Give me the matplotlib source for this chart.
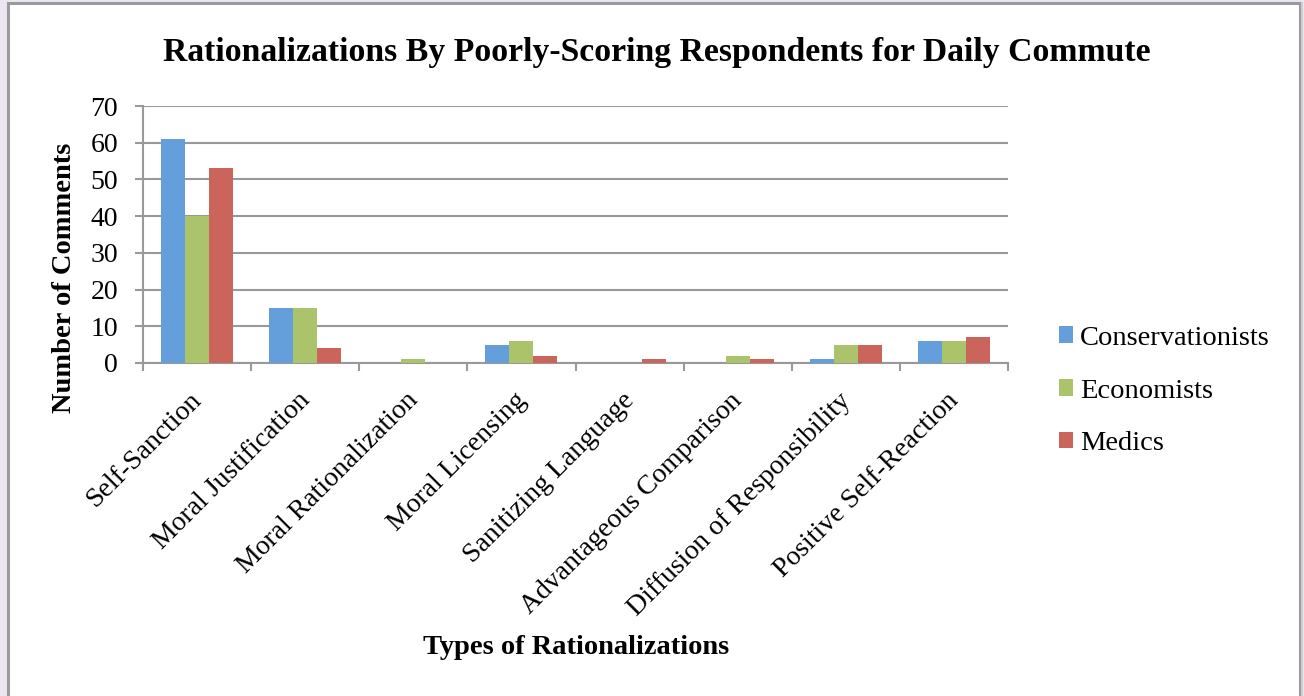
import numpy as np
import matplotlib.pyplot as plt
import matplotlib.transforms as mtransforms
from matplotlib.patches import Rectangle

# data
categories = ["Self-Sanction", "Moral Justification", "Moral Rationalization",
              "Moral Licensing", "Sanitizing Language", "Advantageous Comparison",
              "Diffusion of Responsibility", "Positive Self-Reaction"]
conservationists = [61, 15, 0, 5, 0, 0, 1, 6]
economists = [40, 15, 1, 6, 0, 2, 5, 6]
medics = [53, 4, 0, 2, 1, 1, 5, 7]
series_names = ["Conservationists", "Economists", "Medics"]
colors = ["#659fdb", "#abc46c", "#cb645b"]

plt.rcParams['font.family'] = ['Liberation Serif', 'DejaVu Serif']

fig = plt.figure(figsize=(13.04, 6.96), dpi=100)
fig.patch.set_facecolor("#ebe6f2")
W, H = 1304, 696

# white chart frame with gray border (drawn on a background axes)
bg = fig.add_axes([0, 0, 1, 1], zorder=-5)
bg.set_xlim(0, W)
bg.set_ylim(H, 0)
bg.axis("off")
bg.add_patch(Rectangle((8, 3), 1300 - 8, H + 10, facecolor="white",
                       edgecolor="#9a9a9a", linewidth=2.2))
bg.plot([1302, 1302], [3, H], color="#cfcfcf", linewidth=1.5)

ax = fig.add_axes([143 / W, 1 - 363 / H, (1008 - 143) / W, (363 - 106) / H], zorder=1)
ax.set_facecolor("none")

x = np.arange(len(categories))
bw = 0.222
for i, (vals, name, c) in enumerate(zip([conservationists, economists, medics], series_names, colors)):
    ax.bar(x + (i - 1) * bw, vals, width=bw, color=c, label=name, zorder=3)

ax.set_xlim(-0.5, len(categories) - 0.5)
ax.set_ylim(0, 70)
ax.set_yticks(range(0, 71, 10))
ax.yaxis.grid(True, color="#999999", linewidth=1.5, zorder=0)
ax.set_axisbelow(True)

for s in ["top", "right"]:
    ax.spines[s].set_visible(False)
for s in ["left", "bottom"]:
    ax.spines[s].set_color("#999999")
    ax.spines[s].set_linewidth(1.5)

ax.set_xticks(np.arange(-0.5, len(categories), 1.0))
ax.set_xticklabels([])
ax.set_xticks(x, minor=True)
ax.set_xticklabels(categories, minor=True, rotation=45, ha="right", va="top",
                   rotation_mode="anchor", fontsize=20)
ax.tick_params(axis="x", which="minor", length=0, pad=13)
ax.tick_params(axis="x", which="major", length=6, width=1.5, color="#999999")
ax.tick_params(axis="y", length=6, width=1.5, color="#999999", labelsize=20, pad=12)

# nudge the slanted labels down-left a little, like the original
shift = mtransforms.ScaledTranslation(-0.08, -0.07, fig.dpi_scale_trans)
for lab in ax.get_xticklabels(minor=True):
    lab.set_transform(lab.get_transform() + shift)

fig.text(65 / W, 1 - 278 / H, "Number of Comments", fontsize=20.5, fontweight="bold",
         rotation=90, ha="center", va="center")
fig.text(576 / W, 1 - 647 / H, "Types of Rationalizations", fontsize=20.5,
         fontweight="bold", ha="center", va="center")
fig.text(657 / W, 1 - 53 / H, "Rationalizations By Poorly-Scoring Respondents for Daily Commute",
         fontsize=24.3, fontweight="bold", ha="center", va="center")

fig.legend(loc="center left", bbox_to_anchor=(1033 / W, 1 - 391 / H), frameon=False,
           fontsize=20.5, handlelength=0.5, handleheight=0.5, handletextpad=0.25,
           labelspacing=0.98)

fig.savefig("out.png", dpi=100, facecolor=fig.get_facecolor())
